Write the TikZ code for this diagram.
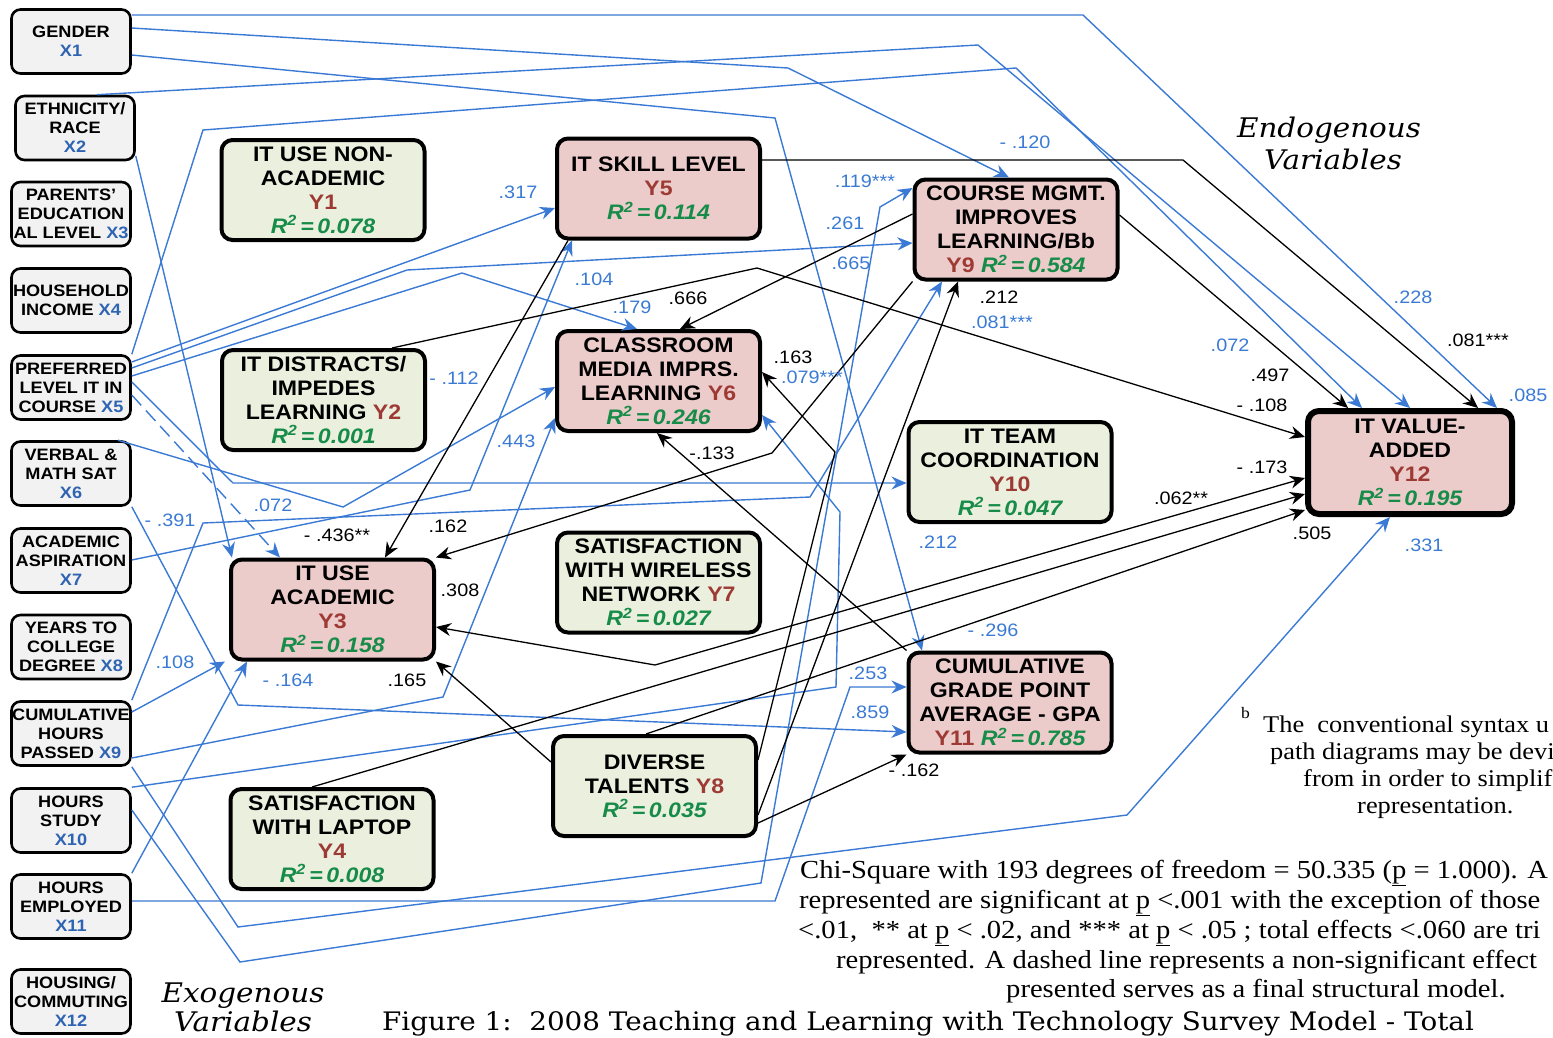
\documentclass[tikz,border=0pt]{standalone}
\usepackage{fontspec}
\setmainfont{Liberation Sans}[FakeStretch=1.1]
\newfontfamily\timesfont{Liberation Serif}[FakeStretch=1.1]
\newfontfamily\bookfont{DejaVu Serif}[FakeStretch=1.09]
\usetikzlibrary{arrows.meta}

\definecolor{lineblue}{RGB}{58,122,212}
\definecolor{xblue}{RGB}{46,100,178}
\definecolor{yred}{RGB}{158,58,52}
\definecolor{rsqgreen}{RGB}{22,140,72}
\definecolor{ygreen}{RGB}{234,239,222}
\definecolor{ypink}{RGB}{236,203,203}
\definecolor{xgray}{RGB}{242,242,242}

\newcommand\xlab[1]{\textcolor{xblue}{#1}}
\newcommand\ylab[1]{\textcolor{yred}{#1}}
\newcommand\rsq[1]{{\color{rsqgreen}\itshape R\textsuperscript{2}\,=\,#1}}

\begin{document}
\begin{tikzpicture}[x=1pt, y=-1pt,
		>={Stealth[length=15pt,width=13pt,inset=5pt]},
		xbox/.style={draw, line width=2.6pt, rounded corners=9pt, fill=xgray, minimum width=119, minimum height=64, inner sep=0pt, align=center, font=\fontsize{16.5}{19}\selectfont\bfseries},
		ybox/.style={draw, line width=4pt, rounded corners=11pt, minimum width=203, minimum height=100, inner sep=0pt, align=center, font=\fontsize{21}{24}\selectfont\bfseries},
		ygrn/.style={ybox, fill=ygreen},
		ypnk/.style={ybox, fill=ypink},
		bl/.style={draw=lineblue, line width=1.4pt, ->},
		bk/.style={draw=black, line width=1.3pt, ->},
		blab/.style={text=lineblue, inner sep=0pt, font=\fontsize{18}{18}\selectfont},
		klab/.style={text=black, inner sep=0pt, font=\fontsize{18}{18}\selectfont},
		fnote/.style={anchor=base west, inner sep=0pt, font=\timesfont\fontsize{24}{24}\selectfont},
		chi/.style={anchor=base west, inner sep=0pt, font=\timesfont\fontsize{26}{26}\selectfont},
		vartitle/.style={anchor=base, inner sep=0pt, font=\bookfont\itshape\fontsize{27}{27}\selectfont}]
		\useasboundingbox (0,0) rectangle (1553,1037);

		\node[xbox] (x1) at (71,41.5) {GENDER\\\xlab{X1}};
		\node[xbox] (x2) at (75,128) {ETHNICITY/\\RACE\\\xlab{X2}};
		\node[xbox] (x3) at (71,214) {PARENTS’\\EDUCATION\\AL LEVEL \xlab{X3}};
		\node[xbox] (x4) at (71,300.5) {HOUSEHOLD\\INCOME \xlab{X4}};
		\node[xbox] (x5) at (71,387.5) {PREFERRED\\LEVEL IT IN\\COURSE \xlab{X5}};
		\node[xbox] (x6) at (71,473.5) {VERBAL \&\\MATH SAT\\\xlab{X6}};
		\node[xbox] (x7) at (71,560.5) {ACADEMIC\\ASPIRATION\\\xlab{X7}};
		\node[xbox] (x8) at (71,647) {YEARS TO\\COLLEGE\\DEGREE \xlab{X8}};
		\node[xbox] (x9) at (71,733.5) {CUMULATIVE\\HOURS\\PASSED \xlab{X9}};
		\node[xbox] (x10) at (71,820.5) {HOURS\\STUDY\\\xlab{X10}};
		\node[xbox] (x11) at (71,906.5) {HOURS\\EMPLOYED\\\xlab{X11}};
		\node[xbox] (x12) at (71,1001.5) {HOUSING/\\COMMUTING\\\xlab{X12}};

		\node[ygrn] (y1) at (323,190) {IT USE NON-\\ACADEMIC\\\ylab{Y1}\\\rsq{0.078}};
		\node[ygrn] (y2) at (323.5,400) {IT DISTRACTS/\\IMPEDES\\LEARNING \ylab{Y2}\\\rsq{0.001}};
		\node[ypnk] (y3) at (332.5,609.5) {IT USE\\ACADEMIC\\\ylab{Y3}\\\rsq{0.158}};
		\node[ygrn] (y4) at (332,839) {SATISFACTION\\WITH LAPTOP\\\ylab{Y4}\\\rsq{0.008}};
		\node[ypnk] (y5) at (658.5,188.5) {IT SKILL LEVEL\\\ylab{Y5}\\\rsq{0.114}};
		\node[ypnk] (y6) at (658.5,381) {CLASSROOM\\MEDIA IMPRS.\\LEARNING \ylab{Y6}\\\rsq{0.246}};
		\node[ygrn] (y7) at (658.5,582.5) {SATISFACTION\\WITH WIRELESS\\NETWORK \ylab{Y7}\\\rsq{0.027}};
		\node[ygrn] (y8) at (654.5,786) {DIVERSE\\TALENTS \ylab{Y8}\\\rsq{0.035}};
		\node[ypnk] (y9) at (1016,229.5) {COURSE MGMT.\\IMPROVES\\LEARNING/Bb\\\ylab{Y9} \rsq{0.584}};
		\node[ygrn] (y10) at (1010,472) {IT TEAM\\COORDINATION\\\ylab{Y10}\\\rsq{0.047}};
		\node[ypnk] (y11) at (1010,702.5) {CUMULATIVE\\GRADE POINT\\AVERAGE - GPA\\\ylab{Y11} \rsq{0.785}};
		\node[ypnk, line width=6pt, minimum width=204, minimum height=103] (y12) at (1410,462.5) {IT VALUE-\\ADDED\\\ylab{Y12}\\\rsq{0.195}};

		\draw[bl] (x1.east |- 0,15) -- (1083,15) -- (y12.north -| 1497,0);
		\draw[bl] (x1.east |- 0,28) -- (788,68) -- (y9.north -| 1009,0);
		\draw[bl] (x1.east |- 0,55) -- (775,118) -- (y11.north -| 922,0);
		\draw[bl] (x2.north -| 97,0) -- (978,45) -- (y12.north -| 1410,0);
		\draw[bl] (x2.east |- 0,156) -- (y3.north -| 232,0);
		\draw[bl] (x5.north east) -- (203,130) -- (1016,68) -- (y12.north -| 1362,0);
		\draw[bl] (x5.east |- 0,362) -- (y5.west |- 0,208);
		\draw[bl] (x5.east |- 0,368) -- (407,270) -- (y9.west |- 0,243);
		\draw[bl] (x5.east |- 0,376) -- (462,273) -- (y6.north -| 637,0);
		\draw[bl] (x5.east |- 0,382) -- (233,483) -- (y10.west |- 0,483);
		\draw[bl, dash pattern=on 14pt off 7pt] (x5.east |- 0,395) -- (y3.north -| 280,0);
		\draw[bl] (x6.north -| 118,0) -- (343,507) -- (y6.west |- 0,387);
		\draw[bl] (x6.south east) -- (238,705) -- (y11.west |- 0,732);
		\draw[bl] (x7.east |- 0,560) -- (470,490) -- (y5.south -| 572,0);
		\draw[bl] (x9.north east) -- (203,523) -- (810,497) -- (y9.south -| 942,0);
		\draw[bl] (x9.east |- 0,712) -- (y3.south -| 225,0);
		\draw[bl] (x9.east |- 0,758) -- (443,697) -- (y6.west |- 0,418);
		\draw[bl] (x9.south east) -- (238,927) -- (1127,815) -- (y12.south -| 1390,0);
		\draw[bl] (x10.north east) -- (836,687) -- (840,512) -- (y6.east |- 0,415);
		\draw[bl] (x10.east |- 0,810) -- (240,962) -- (761,883) -- (880,207) -- (y9.west |- 0,188);
		\draw[bl] (x11.north east) -- (y3.south -| 247,0);
		\draw[bl] (x11.east |- 0,901) -- (775,901) -- (850,687) -- (y11.west |- 0,687);

		\draw[bk] (y5.east |- 0,160) -- (1183,160) -- (y12.north -| 1478,0);
		\draw[bk] (y9.east |- 0,215) -- (y12.north -| 1348,0);
		\draw[bk] (y2.north -| 392,0) -- (757,268) -- (y12.west |- 0,437);
		\draw[bk] (y9.west |- 0,214) -- (y6.north -| 680,0);
		\draw[bk] (y9.south west) -- (772,453) -- (y3.north east);
		\draw[bk] (y5.south -| 568,0) -- (y3.north -| 385,0);
		\draw[bk] (y8.east |- 0,815) -- (y9.south -| 958,0);
		\draw[bk] (y8.east |- 0,760) -- (835,452) -- (y6.east |- 0,372);
		\draw[bk] (y8.east |- 0,823) -- (y11.south west);
		\draw[bk] (y8.west |- 0,762) -- (y3.south east);
		\draw[bk] (y8.north -| 646,0) -- (y12.west |- 0,510);
		\draw[bk] (y4.north -| 312,0) -- (y12.west |- 0,494);
		\draw[bk, <->] (y12.west |- 0,478) -- (655,665) -- (y3.east |- 0,627);
		\draw[bk] (y11.north west) -- (y6.south -| 657,0);

		\node[blab] (lb317) at (518,192) {.317};
		\node[blab] (lb104) at (594,279) {.104};
		\node[blab] (lb179) at (632,307) {.179};
		\node[blab] (lb112) at (454,378) {- .112};
		\node[blab] (lb443) at (516,441) {.443};
		\node[blab] (lb072a) at (273,505) {.072};
		\node[blab] (lb391) at (170,520) {- .391};
		\node[blab] (lb108) at (175,662) {.108};
		\node[blab] (lb164) at (288,680) {- .164};
		\node[blab] (lb120) at (1025,142) {- .120};
		\node[blab] (lb119) at (865,181) {.119***};
		\node[blab] (lb261) at (845,223) {.261};
		\node[blab] (lb665) at (851,263) {.665};
		\node[blab] (lb081) at (1002,322) {.081***};
		\node[blab] (lb079) at (812,377) {.079***};
		\node[blab] (lb212) at (938,542) {.212};
		\node[blab] (lb296) at (993,630) {- .296};
		\node[blab] (lb253) at (868,673) {.253};
		\node[blab] (lb859) at (870,712) {.859};
		\node[blab] (lb228) at (1413,297) {.228};
		\node[blab] (lb072b) at (1230,345) {.072};
		\node[blab] (lb085) at (1528,395) {.085};
		\node[blab] (lb331) at (1424,545) {.331};

		\node[klab] (lk666) at (688,298) {.666};
		\node[klab] (lk163) at (793,357) {.163};
		\node[klab] (lk133) at (712,453) {-.133};
		\node[klab] (lk162a) at (448,526) {.162};
		\node[klab] (lk436) at (337,535) {- .436**};
		\node[klab] (lk308) at (460,590) {.308};
		\node[klab] (lk165) at (407,680) {.165};
		\node[klab] (lk212) at (999,297) {.212};
		\node[klab] (lk497) at (1270,375) {.497};
		\node[klab] (lk108) at (1262,405) {- .108};
		\node[klab] (lk081) at (1478,340) {.081***};
		\node[klab] (lk173) at (1262,467) {- .173};
		\node[klab] (lk062) at (1181,498) {.062**};
		\node[klab] (lk505) at (1312,533) {.505};
		\node[klab] (lk162b) at (914,770) {- .162};

		\node[vartitle] (endo1) at (1329,137) {Endogenous};
		\node[vartitle] (endo2) at (1333,169) {Variables};
		\node[vartitle] (exo1) at (243,1002) {Exogenous};
		\node[vartitle] (exo2) at (243,1031) {Variables};

		\node[anchor=base west, inner sep=0pt, font=\timesfont\fontsize{16}{16}\selectfont] (fnb) at (1241,718) {b};
		\node[fnote] (fn1) at (1263,732) {The\ \ conventional syntax u};
		\node[fnote] (fn2) at (1270,759) {path diagrams may be devi};
		\node[fnote] (fn3) at (1303,786) {from in order to simplif};
		\node[fnote] (fn4) at (1357,813) {representation.};

		\node[chi] (chi1) at (800,878) {Chi-Square with 193 degrees of freedom = 50.335 (\underline{p} = 1.000). A};
		\node[chi] (chi2) at (799,908) {represented are significant at \underline{p} <.001 with the exception of those};
		\node[chi] (chi3) at (798,938) {<.01,\ \ ** at \underline{p} < .02, and *** at \underline{p} < .05 ; total effects <.060 are tri};
		\node[chi] (chi4) at (836,968) {represented. A dashed line represents a non-significant effect};
		\node[chi] (chi5) at (1006,997) {presented serves as a final structural model.};

		\node[anchor=base west, inner sep=0pt, font=\bookfont\fontsize{25.5}{25.5}\selectfont] (cap) at (382,1030) {Figure 1:\ \ 2008 Teaching and Learning with Technology Survey Model - Total};
\end{tikzpicture}
\end{document}
